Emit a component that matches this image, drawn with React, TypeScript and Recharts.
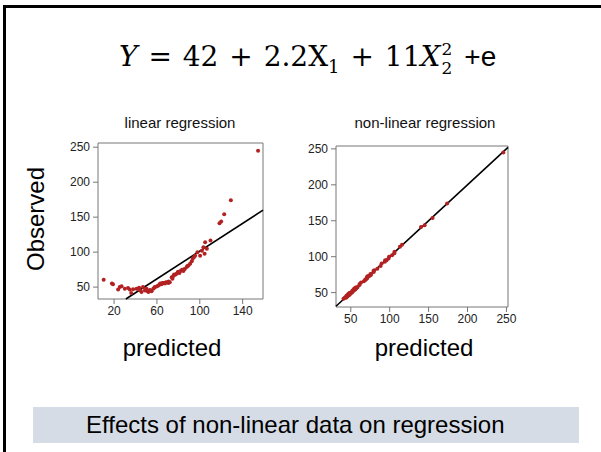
import { ScatterChart, Scatter, XAxis, YAxis, ReferenceLine, ReferenceArea } from 'recharts';

// observed response, shared by both panels
const observed = [
  60.5, 55, 54, 46.7, 50, 51.4, 47.6, 48.6, 46.7, 41.4, 47, 47.6, 49, 43, 50, 45, 47.6, 43, 46, 44,
  47.6, 50, 51, 52, 55, 54, 55.7, 55, 57, 56, 57, 64, 66, 67.6, 69, 71.4, 70, 73, 74.8, 73, 76, 78.6,
  81, 83.3, 87, 90.5, 92.9, 95, 100, 95, 102, 107, 114, 97.6, 104.8, 116.7, 141.4, 143.8, 154, 174,
  244.8, 45.5, 46, 44.5, 45, 49, 53, 56, 56.5, 58, 62, 68, 72, 75, 80,
];

// predictions of the linear model
const linearPredicted = [
  10.3, 18, 19, 23.8, 25.3, 27, 30, 33, 34.7, 36, 37.8, 41, 43.4, 45.6, 47, 48.8, 50.3, 52, 53.4, 55,
  56.6, 58, 59.7, 61, 63, 64.4, 66, 67.5, 69, 70.6, 72, 73.8, 75.3, 77, 78.4, 79.4, 81, 82, 83.4, 84.7,
  86, 87.8, 89.4, 91, 92.5, 93.4, 94.7, 95.6, 97.8, 100.3, 102, 103.4, 105, 104.5, 106.6, 110, 118.4,
  120, 122.8, 129, 154.4, 44, 49.5, 51, 54, 57.5, 62, 65, 68, 71, 74.5, 76, 80, 85, 88.5,
];

// predictions of the non-linear model
const nonLinearPredicted = [
  61.2, 54.3, 55.1, 47.5, 49.2, 52.3, 46.9, 49.4, 47.8, 40.6, 46.2, 48.5, 48.1, 43.9, 51.1, 44.3, 46.8,
  42.2, 46.9, 44.8, 48.4, 49.1, 51.9, 52.7, 54.2, 55, 56.4, 55.8, 56.1, 57, 58, 63.2, 66.9, 68.3, 70.1,
  70.6, 71, 72.1, 75.6, 73.9, 75.2, 79.5, 80.1, 84.2, 88.3, 89.6, 93.8, 94.1, 99.2, 96, 103.1, 106.2,
  113.1, 98.5, 105.9, 115.8, 140.2, 144.9, 155.1, 173.8, 246, 46.2, 45.1, 45.3, 44.2, 49.8, 52.1, 56.9,
  55.7, 58.8, 61.3, 68.8, 71.2, 75.9, 79.1,
];

// fitted lines (predicted -> observed)
const linearFitX = [31, 159];
const linearFitY = [33, 160];
const identityFit = [31, 252];

const linearXTicks = [20, 60, 100, 140];
const nonLinearXTicks = [50, 100, 150, 200, 250];
const yTicks = [50, 100, 150, 200, 250];

const linearXDomain = [5, 159];
const linearYDomain = [33, 256];
const nonLinearXDomain = [31, 252];
const nonLinearYDomain = [30, 254];

const POINT = '#b22222';
const AXIS = '#777';
const SANS = '"Liberation Sans", Arial, sans-serif';
const SERIF = '"DejaVu Serif", serif';

const dot = (props: any) => <circle cx={props.cx} cy={props.cy} r={2} fill={POINT} />;

const tickStyle = { fill: '#222', fontSize: 12, fontFamily: SANS };

interface PanelProps {
  xs: number[];
  ys: number[];
  xDomain: number[];
  yDomain: number[];
  xTicks: number[];
  fit: { x1: number; y1: number; x2: number; y2: number };
  margin: { top: number; right: number; bottom: number; left: number };
}

function Panel({ xs, ys, xDomain, yDomain, xTicks, fit, margin }: PanelProps) {
  const data = xs.map((x, i) => ({ x, y: ys[i] }));
  return (
    <div style={{ position: 'absolute', left: 0, top: 0 }}>
      <ScatterChart width={601} height={452} margin={margin}>
        <XAxis
          type="number"
          dataKey="x"
          domain={xDomain}
          ticks={xTicks}
          allowDataOverflow
          axisLine={false}
          tickLine={{ stroke: AXIS }}
          tickSize={5}
          tick={tickStyle}
          height={30}
        />
        <YAxis
          type="number"
          dataKey="y"
          domain={yDomain}
          ticks={yTicks}
          allowDataOverflow
          axisLine={false}
          tickLine={{ stroke: AXIS }}
          tickSize={5}
          tickMargin={3}
          tick={tickStyle}
          width={40}
        />
        <Scatter data={data} shape={dot} isAnimationActive={false} />
        <ReferenceLine
          segment={[
            { x: fit.x1, y: fit.y1 },
            { x: fit.x2, y: fit.y2 },
          ]}
          stroke="#000"
          strokeWidth={1.6}
        />
        <ReferenceArea
          x1={xDomain[0]}
          x2={xDomain[1]}
          y1={yDomain[0]}
          y2={yDomain[1]}
          fill="none"
          fillOpacity={0}
          stroke={AXIS}
          strokeWidth={1}
        />
      </ScatterChart>
    </div>
  );
}

export default function App() {
  return (
    <div
      style={{
        position: 'absolute',
        left: 0,
        top: 0,
        width: 601,
        height: 452,
        background: '#fff',
        overflow: 'hidden',
        fontFamily: SANS,
      }}
    >
      {/* slide frame */}
      <div style={{ position: 'absolute', left: 3, top: 5, width: 598, height: 447, borderTop: '3px solid #000', borderLeft: '3px solid #000' }} />

      {/* equation */}
      <div
        style={{
          position: 'absolute',
          left: 119,
          top: 41,
          fontFamily: SERIF,
          fontSize: 28,
          lineHeight: '32px',
          color: '#000',
          whiteSpace: 'nowrap',
          wordSpacing: 2,
        }}
      >
        <i>Y</i> = 42 + 2.2X
        <span style={{ fontSize: 18, position: 'relative', top: 7 }}>1</span> + 11<i>X</i>
        <span style={{ position: 'relative', display: 'inline-block', width: 13, height: 20, fontSize: 17 }}>
          <span style={{ position: 'absolute', left: 1, top: -13 }}>2</span>
          <span style={{ position: 'absolute', left: 1, top: 6 }}>2</span>
        </span>{' '}
        <span style={{ fontFamily: SANS, fontSize: 28 }}>+e</span>
      </div>

      <Panel
        xs={linearPredicted}
        ys={observed}
        xDomain={linearXDomain}
        yDomain={linearYDomain}
        xTicks={linearXTicks}
        fit={{ x1: linearFitX[0], y1: linearFitY[0], x2: linearFitX[1], y2: linearFitY[1] }}
        margin={{ top: 143, right: 338, bottom: 123, left: 58 }}
      />
      <Panel
        xs={nonLinearPredicted}
        ys={observed}
        xDomain={nonLinearXDomain}
        yDomain={nonLinearYDomain}
        xTicks={nonLinearXTicks}
        fit={{ x1: identityFit[0], y1: identityFit[0], x2: identityFit[1], y2: identityFit[1] }}
        margin={{ top: 146, right: 93, bottom: 115, left: 296 }}
      />

      {/* panel titles */}
      <div style={{ position: 'absolute', left: 80, width: 200, top: 114, textAlign: 'center', fontSize: 15, color: '#111' }}>
        linear regression
      </div>
      <div style={{ position: 'absolute', left: 325, width: 200, top: 114, textAlign: 'center', fontSize: 15, color: '#111' }}>
        non-linear regression
      </div>

      {/* axis titles */}
      <div
        style={{
          position: 'absolute',
          left: 36,
          top: 219,
          transform: 'translate(-50%, -50%) rotate(-90deg)',
          fontSize: 24,
          color: '#000',
          whiteSpace: 'nowrap',
        }}
      >
        Observed
      </div>
      <div style={{ position: 'absolute', left: 72, width: 200, top: 334, textAlign: 'center', fontSize: 24, color: '#000' }}>
        predicted
      </div>
      <div style={{ position: 'absolute', left: 324, width: 200, top: 334, textAlign: 'center', fontSize: 24, color: '#000' }}>
        predicted
      </div>

      {/* caption */}
      <div
        style={{
          position: 'absolute',
          left: 33,
          top: 407,
          width: 546,
          height: 36,
          background: '#d6dce5',
          fontSize: 24,
          lineHeight: '36px',
          color: '#000',
        }}
      >
        <span style={{ position: 'absolute', left: 53 }}>Effects of non-linear data on regression</span>
      </div>
    </div>
  );
}
